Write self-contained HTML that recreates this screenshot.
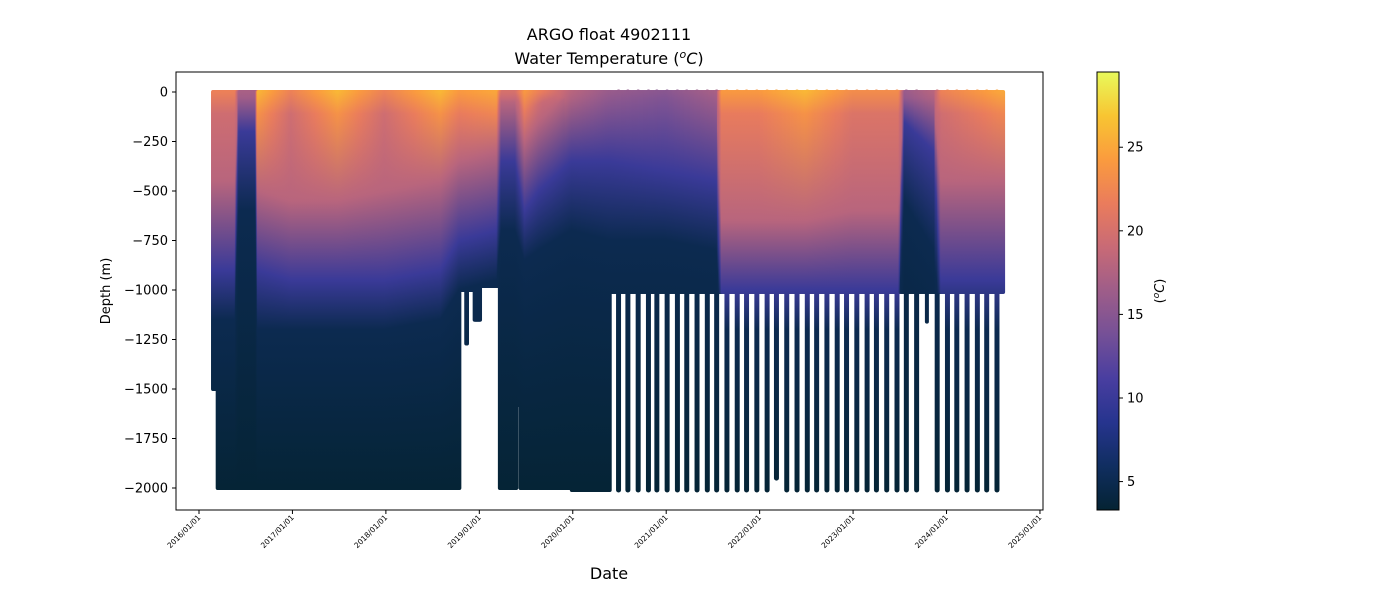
<!DOCTYPE html>
<html><head><meta charset="utf-8"><style>
body{margin:0;background:#fff;}
svg text{font-family:"DejaVu Sans","Liberation Sans",sans-serif;fill:#000;}
</style></head><body>
<svg id="chart" width="1400" height="600" xmlns="http://www.w3.org/2000/svg">
<defs id="defs"></defs>
<text x="609" y="40" font-size="16" text-anchor="middle">ARGO float 4902111</text>
<text x="609" y="64" font-size="16" text-anchor="middle">Water Temperature (<tspan font-size="11" dy="-6" font-style="italic">o</tspan><tspan dy="6" font-style="italic">C</tspan>)</text>
<g id="plot"></g>
<rect x="176" y="72" width="867" height="438" fill="none" stroke="#000" stroke-width="1"/>
<g id="yticks"></g>
<g id="xticks"></g>
<text x="609" y="579" font-size="16" text-anchor="middle">Date</text>
<text transform="translate(110,291) rotate(-90)" font-size="13" text-anchor="middle">Depth (m)</text>
<rect x="1097" y="72" width="22" height="438" fill="url(#cbgrad)" stroke="#000" stroke-width="1"/>
<g id="cbticks"></g>
<text transform="translate(1164,291) rotate(-90)" font-size="13" text-anchor="middle">(<tspan font-size="9" dy="-5" font-style="italic">o</tspan><tspan dy="5" font-style="italic">C</tspan>)</text>
</svg>
<script>
// ---- data ----
const yTicks=[0,-250,-500,-750,-1000,-1250,-1500,-1750,-2000];
const xTickYears=[2016,2017,2018,2019,2020,2021,2022,2023,2024,2025];
const cbTicks=[5,10,15,20,25];
// segments of regularly-cycled profiles: start year, end year, cycle (days), max depth (m)
const segStart=[2016.15,2016.20,2018.79,2018.86,2018.87,2018.95,2019.01,2019.22,2019.40,2019.44,2019.99,2020.40];
const segEnd  =[2016.20,2018.79,2018.86,2018.87,2018.95,2019.01,2019.22,2019.40,2019.44,2019.99,2020.40,2024.61];
const segStep =[2,2,3,3,3,3,3,2,2,2,2,5];
const segDepth=[1500,2000,1000,1270,1000,1150,980,2000,1580,2000,2010,1010];
// deep profiles after 2020.4 (decimal year) and their max depth
const deepYears=[2020.49,2020.59,2020.70,2020.81,2020.90,2021.01,2021.12,2021.22,2021.33,2021.44,2021.54,2021.65,2021.76,2021.86,2021.97,2022.08,2022.18,2022.29,2022.40,2022.51,2022.61,2022.72,2022.83,2022.93,2023.04,2023.15,2023.25,2023.36,2023.47,2023.57,2023.68,2023.79,2023.90,2024.01,2024.11,2024.22,2024.33,2024.43,2024.54];
const deepDepth=[2010,2010,2010,2010,2010,2010,2010,2010,2010,2010,2010,2010,2010,2010,2010,2010,1950,2010,2010,2010,2010,2010,2010,2010,2010,2010,2010,2010,2010,2010,2010,1160,2010,2010,2010,2010,2010,2010,2010];
// water-column regime keypoints: year, surface temp, depth of 18C, 10C, 5C isotherms
const regYear=[2016.15,2016.40,2016.44,2016.62,2016.64,2017.0,2017.5,2018.0,2018.6,2018.8,2019.2,2019.25,2019.4,2019.5,2019.65,2020.0,2020.4,2021.0,2021.55,2021.6,2022.0,2022.5,2023.0,2023.5,2023.56,2023.88,2023.95,2024.61];
const regTs  =[22,22,17,17,26,22,26,22,26,24,25,20,20,24,22,18,16,15,17,24,24,26,23,23,16,18,22,25];
const regD18 =[450,450,0,0,500,550,550,500,450,350,300,50,50,250,150,0,0,0,0,650,650,650,600,600,0,50,450,450];
const regD10 =[900,900,200,200,900,950,950,950,900,750,700,350,350,600,500,350,350,400,450,1000,1000,1000,1000,1000,150,300,950,950];
const regD5  =[1150,1150,600,600,1200,1200,1200,1200,1150,1000,950,700,700,850,800,700,750,750,800,1200,1200,1200,1200,1200,550,800,1200,1200];

// ---- scales ----
const X0=199, XPY=93.44;
const xScale=y=>X0+(y-2016)*XPY;
const yScale=d=>92+(-d)*0.198;
const TMIN=3.3,TMAX=29.5;
const cmap=[[0,[4,35,51]],[0.1,[16,46,96]],[0.2,[38,52,142]],[0.3,[73,62,160]],[0.4,[117,80,151]],[0.5,[158,93,137]],[0.6,[200,106,118]],[0.7,[234,124,92]],[0.8,[250,155,62]],[0.9,[248,197,50]],[1,[232,250,91]]];
function color(T){let t=Math.max(0,Math.min(1,(T-TMIN)/(TMAX-TMIN)));
 for(let i=1;i<cmap.length;i++){if(t<=cmap[i][0]){const a=cmap[i-1],b=cmap[i],f=(t-a[0])/(b[0]-a[0]);
 return 'rgb('+a[1].map((v,k)=>Math.round(v+(b[1][k]-v)*f)).join(',')+')';}}
 return 'rgb(232,250,91)';}
function interp(arr,yr){if(yr<=regYear[0])return arr[0];
 for(let i=1;i<regYear.length;i++){if(yr<=regYear[i]){const f=(yr-regYear[i-1])/(regYear[i]-regYear[i-1]);return arr[i-1]+(arr[i]-arr[i-1])*f;}}
 return arr[arr.length-1];}
const NS='http://www.w3.org/2000/svg';
const defs=document.getElementById('defs');
const plot=document.getElementById('plot');
function mk(tag,attrs,parent){const e=document.createElementNS(NS,tag);for(const k in attrs)e.setAttribute(k,attrs[k]);parent.appendChild(e);return e;}

const cg=mk('linearGradient',{id:'cbgrad',x1:0,y1:1,x2:0,y2:0},defs);
cmap.forEach(s=>mk('stop',{offset:s[0],'stop-color':'rgb('+s[1].join(',')+')'},cg));

const profYears=[],profDepth=[];
for(let s=0;s<segStart.length;s++){for(let y=segStart[s];y<segEnd[s];y+=segStep[s]/365){profYears.push(y);profDepth.push(segDepth[s]);}}
deepYears.forEach((y,i)=>{profYears.push(y);profDepth.push(deepDepth[i]);});
const order=profYears.map((_,i)=>i).sort((a,b)=>profYears[a]-profYears[b]);
let gid=0;
order.forEach(i=>{
 const yr=profYears[i],dep=profDepth[i];
 const Ts=interp(regTs,yr),d18=interp(regD18,yr),d10=interp(regD10,yr),d5=interp(regD5,yr);
 const mix=Math.max(Ts-2.5,Math.min(Ts-0.5,19));
 const mixD=Math.min(110,Math.max(30,d18*0.4));
 const pts=[[0,Ts],[mixD,mix]];
 [[d18,18],[d10,10],[d5,5],[2000,3.5]].forEach(p=>{if(p[0]>pts[pts.length-1][0]&&p[1]<pts[pts.length-1][1])pts.push(p);});
 const id='pg'+(gid++);
 const g=mk('linearGradient',{id:id,gradientUnits:'userSpaceOnUse',x1:0,y1:yScale(0),x2:0,y2:yScale(-2000)},defs);
 pts.forEach(p=>mk('stop',{offset:Math.min(1,p[0]/2000),'stop-color':color(p[1])},g));
 const x=xScale(yr);
 const ln=mk('line',{x1:x,x2:x,y1:yScale(0),y2:yScale(-dep),stroke:'url(#'+id+')','stroke-width':dep>1900&&yr>2020.45?5:4,'stroke-linecap':'round'},plot);
 
 
});

const yt=document.getElementById('yticks');
yTicks.forEach(v=>{const y=yScale(v);
 const l=mk('line',{x1:172,x2:176,y1:y,y2:y,stroke:'#000'},yt);
 
 
 const t=mk('text',{x:168,y:y+4.5,'font-size':13,'text-anchor':'end'},yt);
 t.textContent=v===0?'0':'\u2212'+Math.abs(v);
 
 
});
const xt=document.getElementById('xticks');
xTickYears.forEach(v=>{const x=xScale(v);
 const l=mk('line',{x1:x,x2:x,y1:510,y2:514,stroke:'#000'},xt);
 
 
 const t=mk('text',{transform:'translate('+(x+2)+',518) rotate(-45)','font-size':7.5,'text-anchor':'end'},xt);
 t.textContent=v+'/01/01';
 
 
});
const ct=document.getElementById('cbticks');
const cbY=T=>510-(T-TMIN)/(TMAX-TMIN)*438;
cbTicks.forEach(v=>{const y=cbY(v);
 const l=mk('line',{x1:1119,x2:1123,y1:y,y2:y,stroke:'#000'},ct);
 
 
 const t=mk('text',{x:1127,y:y+4.5,'font-size':13},ct);
 t.textContent=v;
 
 
});
</script>
</body></html>
